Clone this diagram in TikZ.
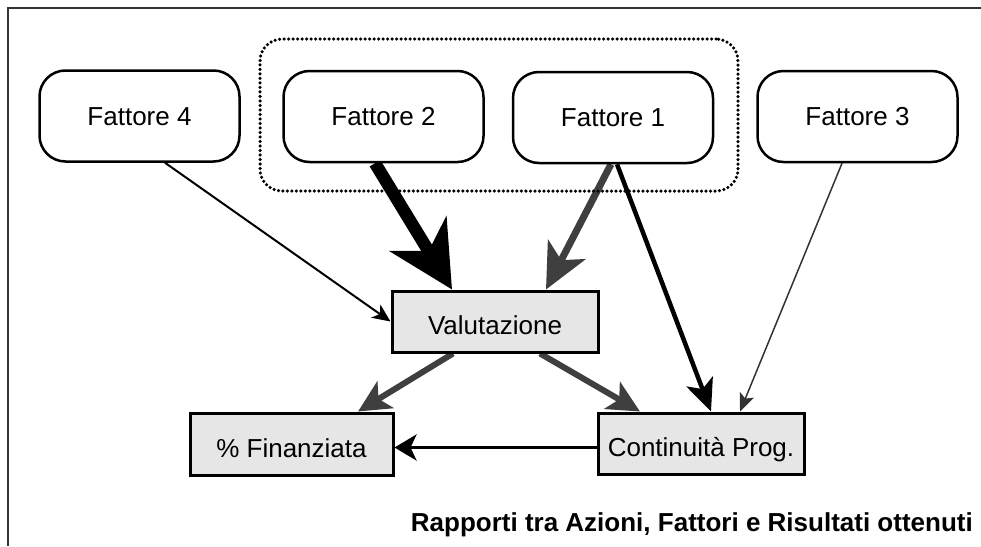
\documentclass[tikz,border=0pt]{standalone}
\usepackage{fontspec}
\setmainfont{Liberation Sans}
\usetikzlibrary{arrows.meta,calc,backgrounds}
\definecolor{boxgray}{HTML}{E6E6E6}
\definecolor{arrgray}{HTML}{3F3F3F}
\definecolor{framegray}{HTML}{333333}
\begin{document}
\begin{tikzpicture}[x=1pt,y=-1pt,
  fattore/.style={draw=black, fill=white, line width=2.5pt, rounded corners=26pt,
    minimum width=200pt, minimum height=91pt, inner sep=0pt,
    font=\fontsize{26}{30}\selectfont, text height=18.6pt, text depth=0pt},
  result/.style={draw=black, fill=boxgray, line width=3pt,
    minimum width=206pt, minimum height=61pt, inner sep=0pt,
    font=\fontsize{26}{30}\selectfont, text height=26.6pt, text depth=0pt},
  groupbox/.style={draw=black, line width=3.5pt, line cap=round, dash pattern=on 0pt off 4.5pt,
    rounded corners=22pt, minimum width=478pt, minimum height=152pt, inner sep=0pt},
  captiontext/.style={font=\fontsize{26}{30}\selectfont\bfseries, inner sep=0pt},
  framestyle/.style={line width=2pt, draw=framegray},
  heavy/.style={line width=12.5pt, draw=black, -{Stealth[length=65pt,width=66pt,inset=20pt]}},
  medgray/.style={line width=7pt, draw=arrgray, -{Stealth[length=45pt,width=42pt,inset=12pt]}},
  medblack/.style={line width=4.5pt, draw=black, -{Stealth[length=32pt,width=28pt,inset=8pt]}},
  outgray/.style={line width=6pt, draw=arrgray, -{Stealth[length=32pt,width=31pt,inset=8pt]}},
  thinblack/.style={line width=2pt, draw=black, -{Stealth[length=18pt,width=16pt,inset=5pt]}},
  thingray/.style={line width=1.5pt, draw=black!80, -{Stealth[length=18pt,width=15pt,inset=4pt]}},
  backarrow/.style={line width=3.5pt, draw=black, -{Stealth[length=22pt,width=26pt,inset=6pt]}},
]
\useasboundingbox (0,0) rectangle (981,546);
\draw[framestyle] (981,8) -- (8,8) -- (8,546);

\node[groupbox] (grp) at (499,115) {};
\node[fattore] (f4) at (139.5,116) {Fattore 4};
\node[fattore] (f2) at (383.5,116.5) {Fattore 2};
\node[fattore] (f1) at (613,117.5) {Fattore 1};
\node[fattore] (f3) at (857.5,116.5) {Fattore 3};

\node[result] (val) at (495,321.5) {Valutazione};
\node[result, minimum width=203pt, minimum height=62pt] (fin) at (291.5,444) {\% Finanziata};
\node[result] (cont) at (701,443.5) {Continuità Prog.};

\node[captiontext, anchor=base east] (cap) at (973,531) {Rapporti tra Azioni, Fattori e Risultati ottenuti};

\begin{scope}[on background layer]
\draw[thinblack] ([xshift=25.5pt]f4.south) -- (val.west);
\draw[heavy] ([xshift=-8.5pt]f2.south) -- ([xshift=-43pt]val.north);
\draw[medgray] ([xshift=-2pt]f1.south) -- ([xshift=51pt]val.north);
\draw[medblack] ([xshift=4pt]f1.south) -- ([xshift=10pt]cont.north);
\draw[thingray] ([xshift=-15.5pt]f3.south) -- ([xshift=39pt]cont.north);
\draw[outgray] ([xshift=-42pt]val.south) -- ([xshift=66.5pt]fin.north);
\draw[outgray] ([xshift=45pt]val.south) -- ([xshift=-61pt]cont.north);
\draw[backarrow] ([yshift=-4pt]cont.west) -- ([yshift=-4pt]cont.west -| fin.east);
\end{scope}
\end{tikzpicture}
\end{document}
